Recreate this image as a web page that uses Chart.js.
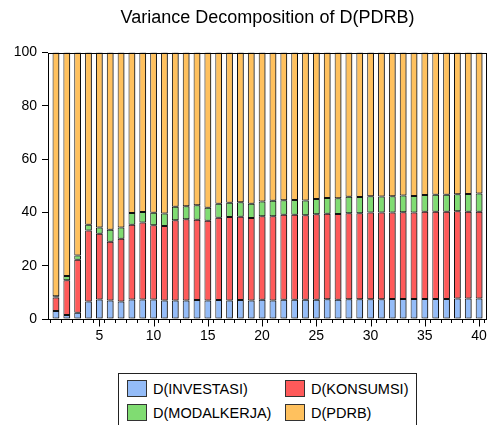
<!DOCTYPE html>
<html>
<head>
<meta charset="utf-8">
<title>Variance Decomposition of D(PDRB)</title>
<script src="https://cdn.jsdelivr.net/npm/chart.js@4.4.1/dist/chart.umd.min.js"></script>
<style>
  html, body { margin: 0; padding: 0; background: #fff; overflow: hidden; }
  #wrap { position: relative; width: 488px; height: 425px; }
  #legend {
    position: absolute; left: 118px; top: 373px; width: 297px; height: 60px;
    border: 1px solid #222; background: #fff;
    font: 14.5px "Liberation Sans", Arial, sans-serif; color: #000;
  }
  .item { position: absolute; display: flex; align-items: center; height: 17px; white-space: nowrap; }
  .swatch { width: 18px; height: 15px; border: 1px solid #333; margin-right: 6px; }
</style>
</head>
<body>
<div id="wrap">
  <canvas id="vd" width="488" height="425"></canvas>
  <div id="legend"></div>
</div>
<script>
const periods = [1, 2, 3, 4, 5, 6, 7, 8, 9, 10, 11, 12, 13, 14, 15, 16, 17, 18, 19, 20,
  21, 22, 23, 24, 25, 26, 27, 28, 29, 30, 31, 32, 33, 34, 35, 36, 37, 38, 39, 40];

const investasi = [3.0, 1.5, 2.3, 6.6, 7.3, 6.9, 6.6, 7.3, 7.3, 7.3, 6.9, 6.9, 6.9, 7.1, 6.9, 7.1, 6.9, 7.1, 6.9, 7.2,
  6.9, 7.2, 7.2, 7.2, 7.2, 7.4, 7.2, 7.4, 7.4, 7.4, 7.4, 7.5, 7.5, 7.5, 7.5, 7.5, 7.5, 7.7, 7.7, 7.7];
const konsumsi = [5.1, 13.0, 19.9, 26.6, 24.7, 22.1, 23.5, 28.1, 28.9, 27.9, 28.0, 30.2, 30.5, 30.2, 30.0, 30.9, 31.4, 31.3, 31.0, 31.4,
  31.7, 31.9, 31.9, 31.7, 32.1, 32.1, 32.2, 32.3, 32.3, 32.6, 32.6, 32.5, 32.6, 32.5, 32.8, 32.8, 32.8, 32.7, 32.6, 32.6];
const modalKerja = [0.4, 1.6, 1.6, 2.2, 2.3, 4.5, 4.2, 4.4, 4.0, 4.7, 4.7, 5.0, 4.9, 5.4, 4.9, 5.3, 5.3, 5.4, 5.4, 5.5,
  5.8, 5.5, 5.6, 5.6, 5.7, 5.9, 5.9, 6.2, 6.1, 6.1, 6.0, 6.1, 6.3, 6.2, 6.2, 6.3, 6.3, 6.4, 6.6, 6.8];
const pdrb = [91.5, 83.9, 76.2, 64.6, 65.7, 66.5, 65.7, 60.2, 59.8, 60.1, 60.4, 57.9, 57.7, 57.3, 58.2, 56.7, 56.4, 56.2, 56.7, 55.9,
  55.6, 55.4, 55.3, 55.5, 55.0, 54.6, 54.7, 54.1, 54.2, 53.9, 54.0, 53.9, 53.6, 53.8, 53.5, 53.4, 53.4, 53.2, 53.1, 52.9];

const seriesNames = ['D(INVESTASI)', 'D(KONSUMSI)', 'D(MODALKERJA)', 'D(PDRB)'];
const seriesColors = ['#94BCF8', '#FF5A5A', '#80DC72', '#FFC15E'];
const majorTicks = [5, 10, 15, 20, 25, 30, 35, 40];

const FONT = '"Liberation Sans", Arial, sans-serif';

// grey drop shadow on the right side of every bar
const barShadow = {
  id: 'barShadow',
  beforeDatasetsDraw(chart) {
    const ctx = chart.ctx;
    ctx.save();
    ctx.shadowColor = 'rgba(0,0,0,0.4)';
    ctx.shadowOffsetX = 2;
    ctx.shadowOffsetY = 0;
    ctx.shadowBlur = 0;
  },
  afterDatasetsDraw(chart) {
    chart.ctx.restore();
  }
};

// box around the plot and longer ticks every 5 periods
const frame = {
  id: 'frame',
  afterDraw(chart) {
    const { ctx, chartArea: a, scales } = chart;
    ctx.save();
    ctx.strokeStyle = '#000';
    ctx.lineWidth = 1;
    const l = Math.round(a.left) + 0.5, t = Math.round(a.top) + 0.5;
    const r = Math.round(a.right) - 0.5, b = Math.round(a.bottom) + 0.5;
    ctx.strokeRect(l, t, r - l, b - t);
    ctx.beginPath();
    majorTicks.forEach(v => {
      const x = Math.round(scales.x.getPixelForValue(v)) + 0.5;
      ctx.moveTo(x, b);
      ctx.lineTo(x, b + 7);
    });
    ctx.stroke();
    ctx.restore();
  }
};

const datasets = [investasi, konsumsi, modalKerja, pdrb].map((values, i) => ({
  label: seriesNames[i],
  data: values,
  backgroundColor: seriesColors[i],
  borderColor: '#111',
  borderWidth: 1,
  borderSkipped: false,
  categoryPercentage: 1,
  barPercentage: 0.62
}));

const chart = new Chart(document.getElementById('vd'), {
  type: 'bar',
  data: { labels: periods, datasets },
  plugins: [barShadow, frame],
  options: {
    responsive: false,
    animation: false,
    devicePixelRatio: 1,
    layout: { padding: { left: 0, right: 1, top: 0, bottom: 76 } },
    plugins: {
      legend: { display: false },
      tooltip: { enabled: false },
      title: {
        display: true,
        text: 'Variance Decomposition of D(PDRB)',
        fullSize: false,
        color: '#000',
        font: { family: FONT, size: 18, weight: 'normal' },
        padding: { top: 7, bottom: 24 }
      }
    },
    scales: {
      x: {
        type: 'linear',
        stacked: true,
        min: 0.27,
        max: 40.73,
        offset: false,
        border: { display: false },
        grid: { drawOnChartArea: false, tickLength: 4, color: '#000' },
        ticks: {
          stepSize: 1,
          autoSkip: false,
          includeBounds: false,
          maxRotation: 0,
          padding: 5,
          color: '#000',
          font: { family: FONT, size: 14 },
          callback: v => (v % 5 === 0 ? String(v) : '')
        },
        afterFit(scale) {
          scale.height = 30;
          scale.paddingLeft = 0;
          scale.paddingRight = 0;
        }
      },
      y: {
        stacked: true,
        min: 0,
        max: 100,
        border: { display: false },
        grid: { drawOnChartArea: false, tickLength: 6, color: '#000' },
        ticks: {
          stepSize: 20,
          padding: 5,
          color: '#000',
          font: { family: FONT, size: 14 }
        },
        afterFit(scale) {
          scale.width = 48;
          scale.paddingTop = 0;
          scale.paddingBottom = 0;
        }
      }
    }
  }
});

// two-column legend under the plot
const legendEl = document.getElementById('legend');
chart.data.datasets.forEach((ds, i) => {
  const item = document.createElement('div');
  item.className = 'item';
  item.style.left = (8 + (i % 2) * 158) + 'px';
  item.style.top = (6 + Math.floor(i / 2) * 24) + 'px';
  const sw = document.createElement('span');
  sw.className = 'swatch';
  sw.style.background = ds.backgroundColor;
  const txt = document.createElement('span');
  txt.textContent = ds.label;
  item.appendChild(sw);
  item.appendChild(txt);
  legendEl.appendChild(item);
});
</script>
</body>
</html>
